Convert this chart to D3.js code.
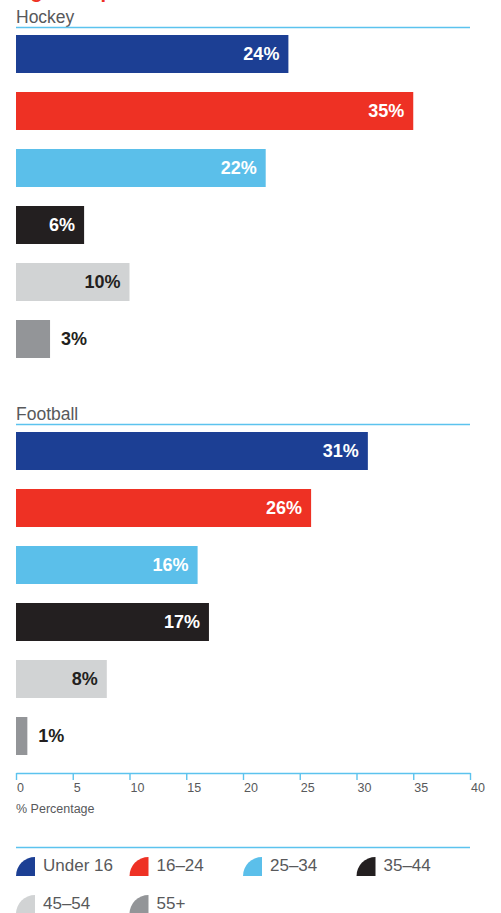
<!DOCTYPE html>
<html>
<head>
<meta charset="utf-8">
<script src="https://cdn.jsdelivr.net/npm/d3@7"></script>
<style>
  html, body { margin: 0; padding: 0; background: #fff; }
  svg { display: block; font-family: "Liberation Sans", Arial, Helvetica, sans-serif; }
</style>
</head>
<body>
<svg id="chart" width="501" height="913"></svg>
<script>
// Age bands, shared by both sports
const ageGroups = ["Under 16", "16–24", "25–34", "35–44", "45–54", "55+"];
const ageColors = ["#1c3f94", "#ee3124", "#5bbfea", "#231f20", "#d1d3d4", "#939598"];

// Share of each sport's audience by age band (%)
const sports = ["Hockey", "Football"];
const hockeyValues = [24, 35, 22, 6, 10, 3];
const footballValues = [31, 26, 16, 17, 8, 1];

const axisTicks = [0, 5, 10, 15, 20, 25, 30, 35, 40];
const axisTitle = "% Percentage";
const chartTitle = "Age comparison";

const seriesBySport = [hockeyValues, footballValues];

const svg = d3.select("#chart");
const lineColor = "#5cc3ee";
const textGrey = "#58595b";

const x = d3.scaleLinear().domain([0, 40]).range([16, 470]);

// Vertical placement of each sport panel (top of first bar)
const panelY = d3.scaleBand().domain(sports).range([35, 35 + 397 * 2]).paddingInner(0).paddingOuter(0);
const barY = d3.scaleBand().domain(ageGroups).range([0, 323]).paddingInner(1 / 3).paddingOuter(0);
const color = d3.scaleOrdinal().domain(ageGroups).range(ageColors);

// Title (sits above the top edge)
svg.append("text")
  .attr("x", 16).attr("y", -2)
  .attr("fill", "#ee3124")
  .attr("font-size", 20).attr("font-weight", "bold")
  .text(chartTitle);

// Values that fit inside the bar get an inside label
const insideMin = 5;
const darkText = new Set(["45–54"]);

sports.forEach((sport, si) => {
  const top = panelY(sport);
  const g = svg.append("g").attr("transform", `translate(0,${top})`);

  g.append("text")
    .attr("x", 16).attr("y", -12.5)
    .attr("fill", textGrey)
    .attr("font-size", 17.5)
    .text(sport);

  g.append("line")
    .attr("x1", x(0)).attr("x2", x(40))
    .attr("y1", -7.5).attr("y2", -7.5)
    .attr("stroke", lineColor).attr("stroke-width", 1.4);

  const rows = ageGroups.map((a, i) => ({ age: a, value: seriesBySport[si][i] }));

  g.selectAll("rect.bar").data(rows).join("rect")
    .attr("class", "bar")
    .attr("x", x(0))
    .attr("y", d => barY(d.age))
    .attr("width", d => x(d.value) - x(0))
    .attr("height", barY.bandwidth())
    .attr("fill", d => color(d.age));

  g.selectAll("text.val").data(rows).join("text")
    .attr("class", "val")
    .attr("x", d => d.value >= insideMin ? x(d.value) - 9 : x(d.value) + 11)
    .attr("y", d => barY(d.age) + barY.bandwidth() / 2)
    .attr("dy", "0.33em")
    .attr("text-anchor", d => d.value >= insideMin ? "end" : "start")
    .attr("font-size", 18).attr("font-weight", "bold")
    .attr("fill", d => (d.value < insideMin || darkText.has(d.age)) ? "#231f20" : "#ffffff")
    .text(d => d.value + "%");
});

// Value axis
const axisG = svg.append("g")
  .attr("transform", "translate(0,773)")
  .call(d3.axisBottom(x).tickValues(axisTicks).tickSize(7).tickSizeOuter(0));
axisG.select(".domain").attr("stroke", lineColor).attr("stroke-width", 1.4);
axisG.selectAll(".tick line").attr("stroke", lineColor).attr("stroke-width", 1.4);
axisG.selectAll(".tick text")
  .attr("text-anchor", "start")
  .attr("x", 0.5)
  .attr("fill", textGrey)
  .attr("font-size", 12.5)
  .attr("font-family", "Liberation Sans, Arial, sans-serif");

svg.append("text")
  .attr("x", 16).attr("y", 813)
  .attr("fill", textGrey)
  .attr("font-size", 12.5)
  .text(axisTitle);

// Legend
svg.append("line")
  .attr("x1", x(0)).attr("x2", x(40))
  .attr("y1", 847.5).attr("y2", 847.5)
  .attr("stroke", lineColor).attr("stroke-width", 1.4);

const legendCol = d3.scaleBand().domain(d3.range(4)).range([16, 470]);
const legendRow = d3.scalePoint().domain([0, 1]).range([857, 895]);
const sw = 19;

const items = svg.selectAll("g.legend").data(ageGroups).join("g")
  .attr("class", "legend")
  .attr("transform", (d, i) => `translate(${legendCol(i % 4)},${legendRow(Math.floor(i / 4))})`);

// quarter-circle swatch, centre at bottom-right
items.append("path")
  .attr("d", `M0,${sw} A${sw},${sw} 0 0 1 ${sw},0 L${sw},${sw} Z`)
  .attr("fill", d => color(d));

items.append("text")
  .attr("x", 27).attr("y", 14)
  .attr("fill", textGrey)
  .attr("font-size", 17)
  .text(d => d);
</script>
</body>
</html>
